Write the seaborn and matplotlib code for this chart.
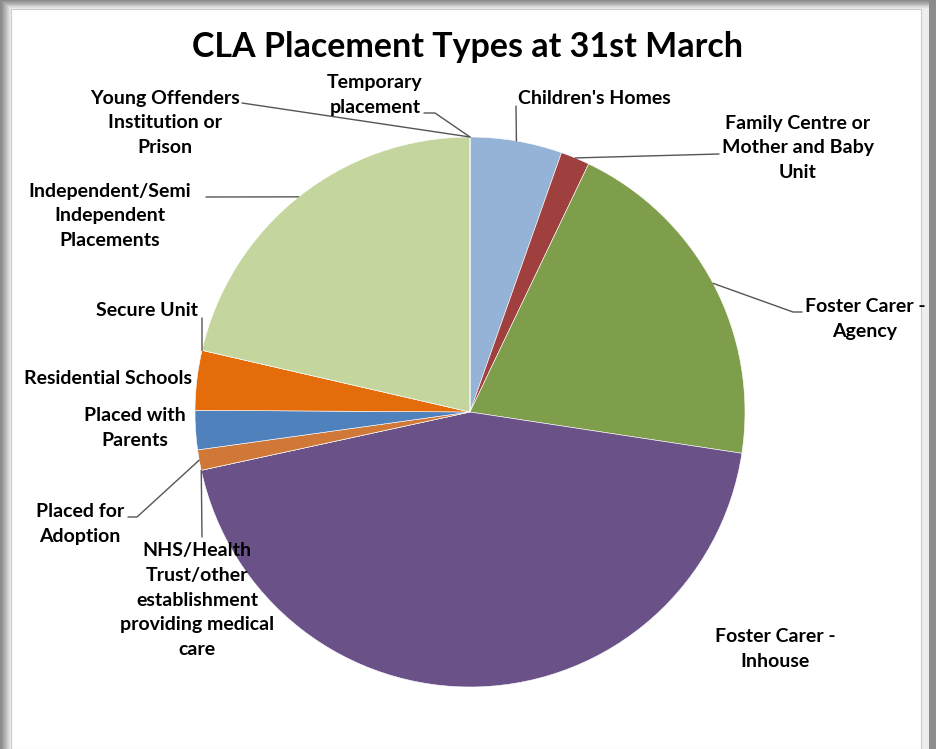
import numpy as np
import seaborn as sns
import matplotlib.pyplot as plt
from matplotlib.patches import Rectangle

# Placement types, in Excel order (clockwise from 12 o'clock)
categories = [
    "Children's Homes",
    "Family Centre or\nMother and Baby\nUnit",
    "Foster Carer -\nAgency",
    "Foster Carer -\nInhouse",
    "NHS/Health\nTrust/other\nestablishment\nproviding medical\ncare",
    "Placed for\nAdoption",
    "Placed with\nParents",
    "Residential Schools",
    "Secure Unit",
    "Independent/Semi\nIndependent\nPlacements",
    "Young Offenders\nInstitution or\nPrison",
    "Temporary\nplacement",
]
# share of children looked after (%)
values = [5.4, 1.7, 20.3, 44.2, 0.0, 1.2, 2.3, 3.5, 0.0, 21.4, 0.0, 0.0]
colors = ["#95b3d7", "#a0403e", "#7f9e4b", "#6a5188", "#8064a2", "#d07838",
          "#4f81bd", "#e46c0a", "#4bacc6", "#c4d69d", "#f79646", "#2c4d75"]

W, H = 936, 749
CX, CY, R = 470, 412, 275  # pixel coords, y from top

# label placement: text centre, leader polyline from the pie edge (None = no leader)
label_pos = [(594, 98), (798, 148), (865, 319), (775, 649), (197, 600), (80, 524),
             (135, 428), (108, 379), (147, 311), (110, 216), (165, 123), (375, 95)]
leaders = [[(516, 106)], [(719, 154)], [(793, 312), (802, 312)], None,
           [(202, 537)], [(137, 517), (128, 517)], None, None, [(202, 318)],
           [(206, 197)], [(242, 103)], [(435, 113), (424, 113)]]
use_mid = [True, True, True, True, False, True, True, True, False, True, False, False]

sns.set_theme(style="white")
plt.rcParams['font.family'] = ['Lato', 'DejaVu Sans']

fig = plt.figure(figsize=(W / 100, H / 100), dpi=100)
fig.patch.set_facecolor("white")
ax = fig.add_axes([0, 0, 1, 1])

# grey frame / shadow like the Excel chart border
for i, g in enumerate(np.linspace(0.92, 0.55, 10)):
    ax.add_patch(Rectangle((0, 0), 11 - i, H, color=str(g), lw=0, zorder=0))
    ax.add_patch(Rectangle((0, H - 9 + i * 0.9), W, 9 - i * 0.9, color=str(g), lw=0, zorder=0))
ax.add_patch(Rectangle((929, 0), 7, H, color="0.55", lw=0, zorder=0))
ax.add_patch(Rectangle((921, 0), 8, H - 9, color="0.93", lw=0, zorder=0))
ax.add_patch(Rectangle((11, 0), 910, H - 9, facecolor="white", edgecolor="0.8", lw=0.8, zorder=0.5))

wedges, _ = ax.pie(values, colors=colors, startangle=90, counterclock=False,
                   center=(CX, H - CY), radius=R, frame=True,
                   wedgeprops=dict(linewidth=0.4, edgecolor="white"))
ax.set_xlim(0, W)
ax.set_ylim(0, H)
ax.axis("off")

for w, lab, pos, lead, mid in zip(wedges, categories, label_pos, leaders, use_mid):
    ang = np.deg2rad((w.theta1 + w.theta2) / 2 if mid else w.theta1)
    if lead is not None:
        x0 = CX + R * np.cos(ang)
        y0 = (H - CY) + R * np.sin(ang)
        xs = [x0] + [p[0] for p in lead]
        ys = [y0] + [H - p[1] for p in lead]
        ax.plot(xs, ys, color="#555555", lw=1.0, zorder=3)
    ax.text(pos[0], H - pos[1], lab, ha="center", va="center", fontsize=14,
            fontweight="bold", color="black", linespacing=1.56, zorder=4)

ax.text(468, H - 47, "CLA Placement Types at 31st March", ha="center", va="center",
        fontsize=24.5, fontweight="bold", color="black")

fig.savefig("out.png", dpi=100)
